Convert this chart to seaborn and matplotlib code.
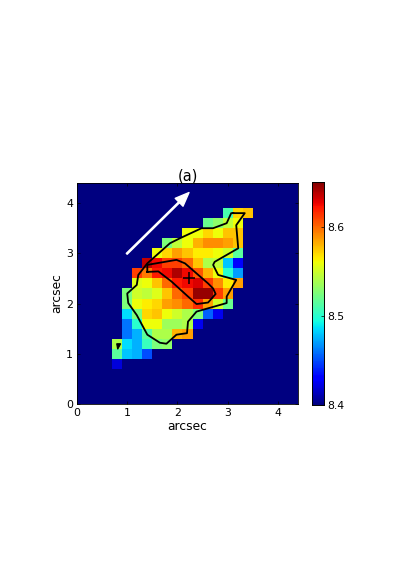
import numpy as np
import matplotlib
matplotlib.use("Agg")
import matplotlib.pyplot as plt
import seaborn as sns

# metallicity map, cells are 0.2 arcsec
n_cells = 23
row_index = [19, 18, 17, 16, 15, 14, 13, 12, 11, 10, 9, 8, 7, 6, 5, 4]
row_first_col = [15, 13, 11, 9, 8, 7, 6, 6, 5, 5, 5, 5, 5, 4, 4, 4]
row_values = [
    [8.51, 8.57, 8.575],
    [8.52, 8.53, 8.545, 8.56],
    [8.56, 8.56, 8.57, 8.56, 8.575, 8.575],
    [8.525, 8.545, 8.56, 8.58, 8.59, 8.59, 8.585, 8.575],
    [8.56, 8.57, 8.585, 8.575, 8.565, 8.565, 8.56, 8.55, 8.515],
    [8.635, 8.625, 8.61, 8.61, 8.6, 8.575, 8.54, 8.545, 8.48, 8.43],
    [8.61, 8.595, 8.62, 8.625, 8.64, 8.625, 8.605, 8.58, 8.56, 8.5, 8.47],
    [8.555, 8.56, 8.575, 8.6, 8.62, 8.625, 8.63, 8.61, 8.59, 8.565, 8.585],
    [8.525, 8.55, 8.545, 8.555, 8.575, 8.6, 8.61, 8.645, 8.645, 8.61, 8.585],
    [8.525, 8.56, 8.565, 8.57, 8.585, 8.59, 8.6, 8.615, 8.585, 8.55, 8.52],
    [8.485, 8.525, 8.57, 8.575, 8.56, 8.55, 8.54, 8.525, 8.455, 8.425],
    [8.46, 8.5, 8.56, 8.56, 8.535, 8.535, 8.54, 8.425],
    [8.46, 8.475, 8.515, 8.54, 8.54, 8.58, 8.585],
    [8.54, 8.485, 8.475, 8.505, 8.525, 8.53],
    [8.515, 8.48, 8.475, 8.45],
    [8.42],
]

# contours in arcsec
outer_x = [3.11, 3.34, 3.17, 3.21, 2.74, 2.71, 2.81, 3.17, 2.98, 2.98, 2.38, 2.21, 2.19, 1.98,
           1.78, 1.65, 1.40, 1.19, 1.02, 1.00, 1.19, 1.22, 1.40, 1.85, 2.05, 2.48, 2.71, 2.98, 3.07, 3.11]
outer_y = [3.80, 3.80, 3.56, 3.10, 2.83, 2.77, 2.57, 2.47, 2.14, 2.01, 1.84, 1.64, 1.41, 1.38,
           1.20, 1.22, 1.38, 1.77, 2.01, 2.20, 2.37, 2.57, 2.80, 3.20, 3.30, 3.50, 3.50, 3.60, 3.80, 3.80]
inner_x = [1.40, 1.40, 1.98, 2.15, 2.38, 2.61, 2.71, 2.76, 2.61, 2.38, 2.21, 1.88, 1.62, 1.40]
inner_y = [2.63, 2.77, 2.87, 2.80, 2.60, 2.40, 2.30, 2.19, 2.02, 1.99, 2.14, 2.44, 2.64, 2.63]
small_x = [0.79, 0.87, 0.81, 0.79]
small_y = [1.20, 1.20, 1.09, 1.20]

peak = (2.23, 2.50)
arrow_start = (0.99, 2.99)
arrow_end = (2.23, 4.21)
ticks = [0, 1, 2, 3, 4]
cbar_ticks = [8.4, 8.5, 8.6]

plt.rcParams["font.family"] = "DejaVu Sans"

grid = np.full((n_cells, n_cells), 8.4)
for j, first, vals in zip(row_index, row_first_col, row_values):
    grid[j, first:first + len(vals)] = vals


def to_idx(v):
    # arcsec to heatmap cell position
    return np.asarray(v) / 0.2 + 0.5


fig = plt.figure(figsize=(4.15, 5.88), dpi=100)
ax = fig.add_axes([77 / 415, 184 / 588, 221 / 415, 221 / 588])
cax = fig.add_axes([312 / 415, 183 / 588, 11.5 / 415, 223 / 588])

sns.heatmap(grid, ax=ax, cbar_ax=cax, cmap="jet", vmin=8.4, vmax=8.65, square=False,
            xticklabels=False, yticklabels=False, cbar_kws={"ticks": cbar_ticks})
ax.set_xlim(to_idx(0), to_idx(4.4))
ax.set_ylim(to_idx(0), to_idx(4.4))

ax.plot(to_idx(outer_x), to_idx(outer_y), color="black", lw=1.3)
ax.plot(to_idx(inner_x), to_idx(inner_y), color="black", lw=1.3)
ax.fill(to_idx(small_x), to_idx(small_y), color="black", lw=0.8)
ax.plot(to_idx(peak[0]), to_idx(peak[1]), marker="+", color="black", ms=8, mew=1.1)
ax.annotate("", xy=(to_idx(arrow_end[0]), to_idx(arrow_end[1])),
            xytext=(to_idx(arrow_start[0]), to_idx(arrow_start[1])),
            arrowprops=dict(facecolor="white", edgecolor="white", width=0.9, headwidth=8,
                            headlength=10, shrink=0))

ax.set_xticks(to_idx(ticks))
ax.set_yticks(to_idx(ticks))
ax.set_xticklabels(ticks, rotation=0)
ax.set_yticklabels(ticks, rotation=0)
ax.tick_params(direction="in", top=True, right=True, length=2.5, width=0.5, labelsize=7.8, pad=3)
for s in ax.spines.values():
    s.set_visible(True)
    s.set_linewidth(0.6)
ax.set_xlabel("arcsec", fontsize=8.8, labelpad=1)
ax.set_ylabel("arcsec", fontsize=8.8, labelpad=2)
ax.set_title("(a)", fontsize=10.5, pad=2)

cax.tick_params(direction="in", length=2, width=0.5, labelsize=7.8, pad=3)
cax.set_yticklabels(["8.4", "8.5", "8.6"])
for s in cax.spines.values():
    s.set_visible(True)
    s.set_linewidth(0.6)

fig.savefig("out.png", dpi=100)
